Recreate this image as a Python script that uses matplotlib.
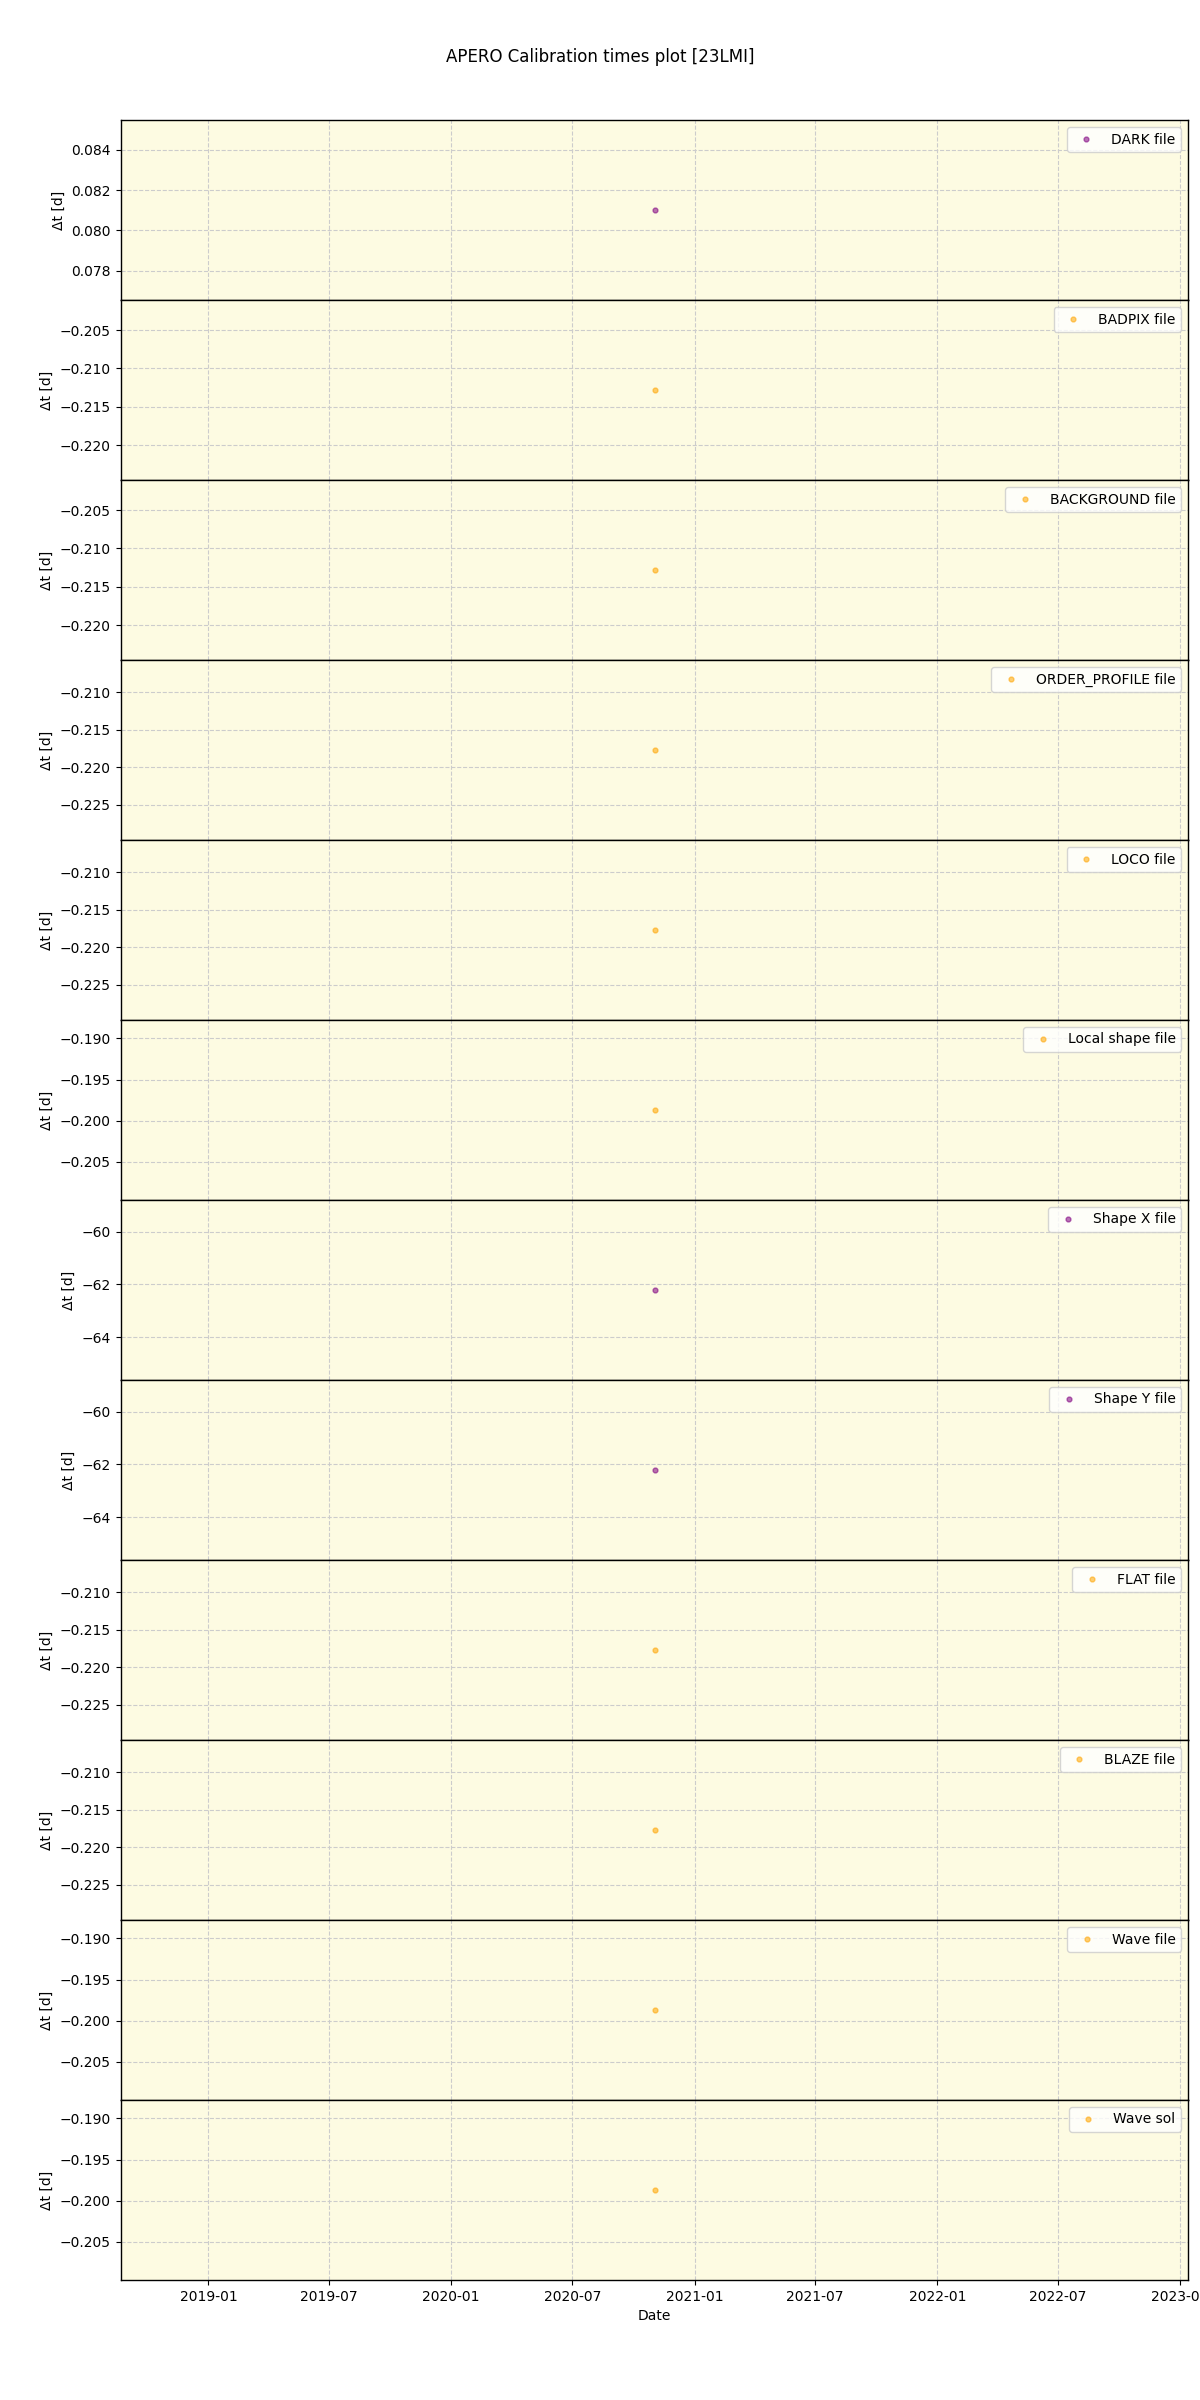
import matplotlib
matplotlib.use("Agg")
import matplotlib.pyplot as plt
import matplotlib.dates as mdates
import numpy as np
import datetime as dt

labels = ["DARK file", "BADPIX file", "BACKGROUND file", "ORDER_PROFILE file",
          "LOCO file", "Local shape file", "Shape X file", "Shape Y file",
          "FLAT file", "BLAZE file", "Wave file", "Wave sol"]
values = [0.08101, -0.2128, -0.2128, -0.2177, -0.2177, -0.1987,
          -62.21, -62.21, -0.2177, -0.2177, -0.1987, -0.1987]
colors = ["purple", "orange", "orange", "orange", "orange", "orange",
          "purple", "purple", "orange", "orange", "orange", "orange"]
obs_date = dt.datetime(2020, 11, 2)
xlim = (dt.datetime(2018, 8, 22), dt.datetime(2023, 1, 13))

fig, axes = plt.subplots(len(labels), 1, figsize=(12, 24), dpi=100, sharex=True)
fig.subplots_adjust(left=0.1006, right=0.990, top=0.95, bottom=0.05, hspace=0)

for ax, lab, v, c in zip(axes, labels, values, colors):
    ax.set_facecolor("#fdfbe2")
    ax.plot([obs_date], [v], "o", color=c, alpha=0.55, ms=3.5, label=lab,
            linestyle="none")
    d = 0.055 * abs(v)
    ax.set_ylim(v - d, v + d)
    ax.grid(True, linestyle="--", color="#cccccc", linewidth=0.8)
    ax.set_ylabel("Δt [d]")
    ax.legend(loc="upper right")
    for s in ax.spines.values():
        s.set_linewidth(1.0)

axes[-1].set_xlim(*xlim)
axes[-1].xaxis.set_major_locator(mdates.MonthLocator(bymonth=[1, 7]))
axes[-1].xaxis.set_major_formatter(mdates.DateFormatter("%Y-%m"))
axes[-1].set_xlabel("Date")
fig.suptitle("APERO Calibration times plot [23LMI]")
fig.savefig("out.png", dpi=100)
